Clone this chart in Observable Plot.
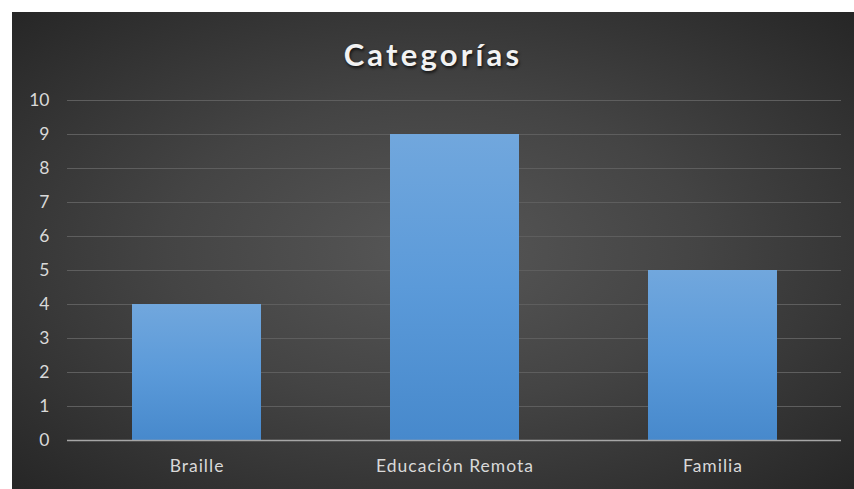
<!DOCTYPE html>
<html>
<head>
<meta charset="utf-8">
<script src="https://cdn.jsdelivr.net/npm/d3@7"></script>
<script src="https://cdn.jsdelivr.net/npm/@observablehq/plot@0.6"></script>
<style>
  html, body { margin: 0; padding: 0; background: #ffffff; }
  #panel {
    position: absolute; left: 12px; top: 12px; width: 842px; height: 477px;
    background: radial-gradient(ellipse at 50% 50%, #575757 0%, #444 45%, #262626 100%);
    font-family: Lato, "Open Sans", sans-serif;
    overflow: hidden;
  }
  #title {
    height: 70px; line-height: 84px; text-align: center;
    color: #f2f2f2; font-weight: bold; font-size: 31px; letter-spacing: 3.2px;
    text-shadow: 1px 2px 3px rgba(0,0,0,0.7);
  }
  #chart svg { display: block; }
  #chart svg g[aria-label="x-axis tick label"] text { letter-spacing: 1px; }
</style>
</head>
<body>
<div id="panel">
  <div id="title">Categorías</div>
  <div id="chart"></div>
</div>
<script>
const categories = ["Braille", "Educación Remota", "Familia"];
const values = [4, 9, 5];
const yTicks = [0, 1, 2, 3, 4, 5, 6, 7, 8, 9, 10];

const data = categories.map((c, i) => ({category: c, value: values[i]}));

const plot = Plot.plot({
  width: 842,
  height: 407,
  marginTop: 18,
  marginBottom: 49,
  marginLeft: 55,
  marginRight: 13,
  style: {background: "transparent", color: "#d9d9d9", fontFamily: "Lato, 'Open Sans', sans-serif", fontSize: "17.5px"},
  x: {domain: categories, paddingInner: 0.5, paddingOuter: 0.25, label: null},
  y: {domain: [0, 10], label: null},
  marks: [
    Plot.ruleY(yTicks.filter(d => d > 0), {stroke: "#5e5e5e", strokeWidth: 1}),
    Plot.barY(data, {x: "category", y: "value", fill: "url(#barGrad)", style: "filter: drop-shadow(0px 0px 3px rgba(0,0,0,0.55))"}),
    Plot.ruleY([0], {stroke: "#a6a6a6", strokeWidth: 1.5}),
    Plot.axisY({ticks: yTicks, tickSize: 0, tickPadding: 18, tickFormat: d => d, fill: "#d9d9d9"}),
    Plot.axisX({tickSize: 0, tickPadding: 19, fill: "#d9d9d9"})
  ]
});

const svg = d3.select(plot);
const defs = svg.insert("defs", ":first-child");
const g = defs.append("linearGradient").attr("id", "barGrad").attr("x1", 0).attr("y1", 0).attr("x2", 0).attr("y2", 1);
g.append("stop").attr("offset", "0%").attr("stop-color", "#71a7dd");
g.append("stop").attr("offset", "50%").attr("stop-color", "#5b9ad9");
g.append("stop").attr("offset", "100%").attr("stop-color", "#4789cc");

document.getElementById("chart").appendChild(plot);
</script>
</body>
</html>
